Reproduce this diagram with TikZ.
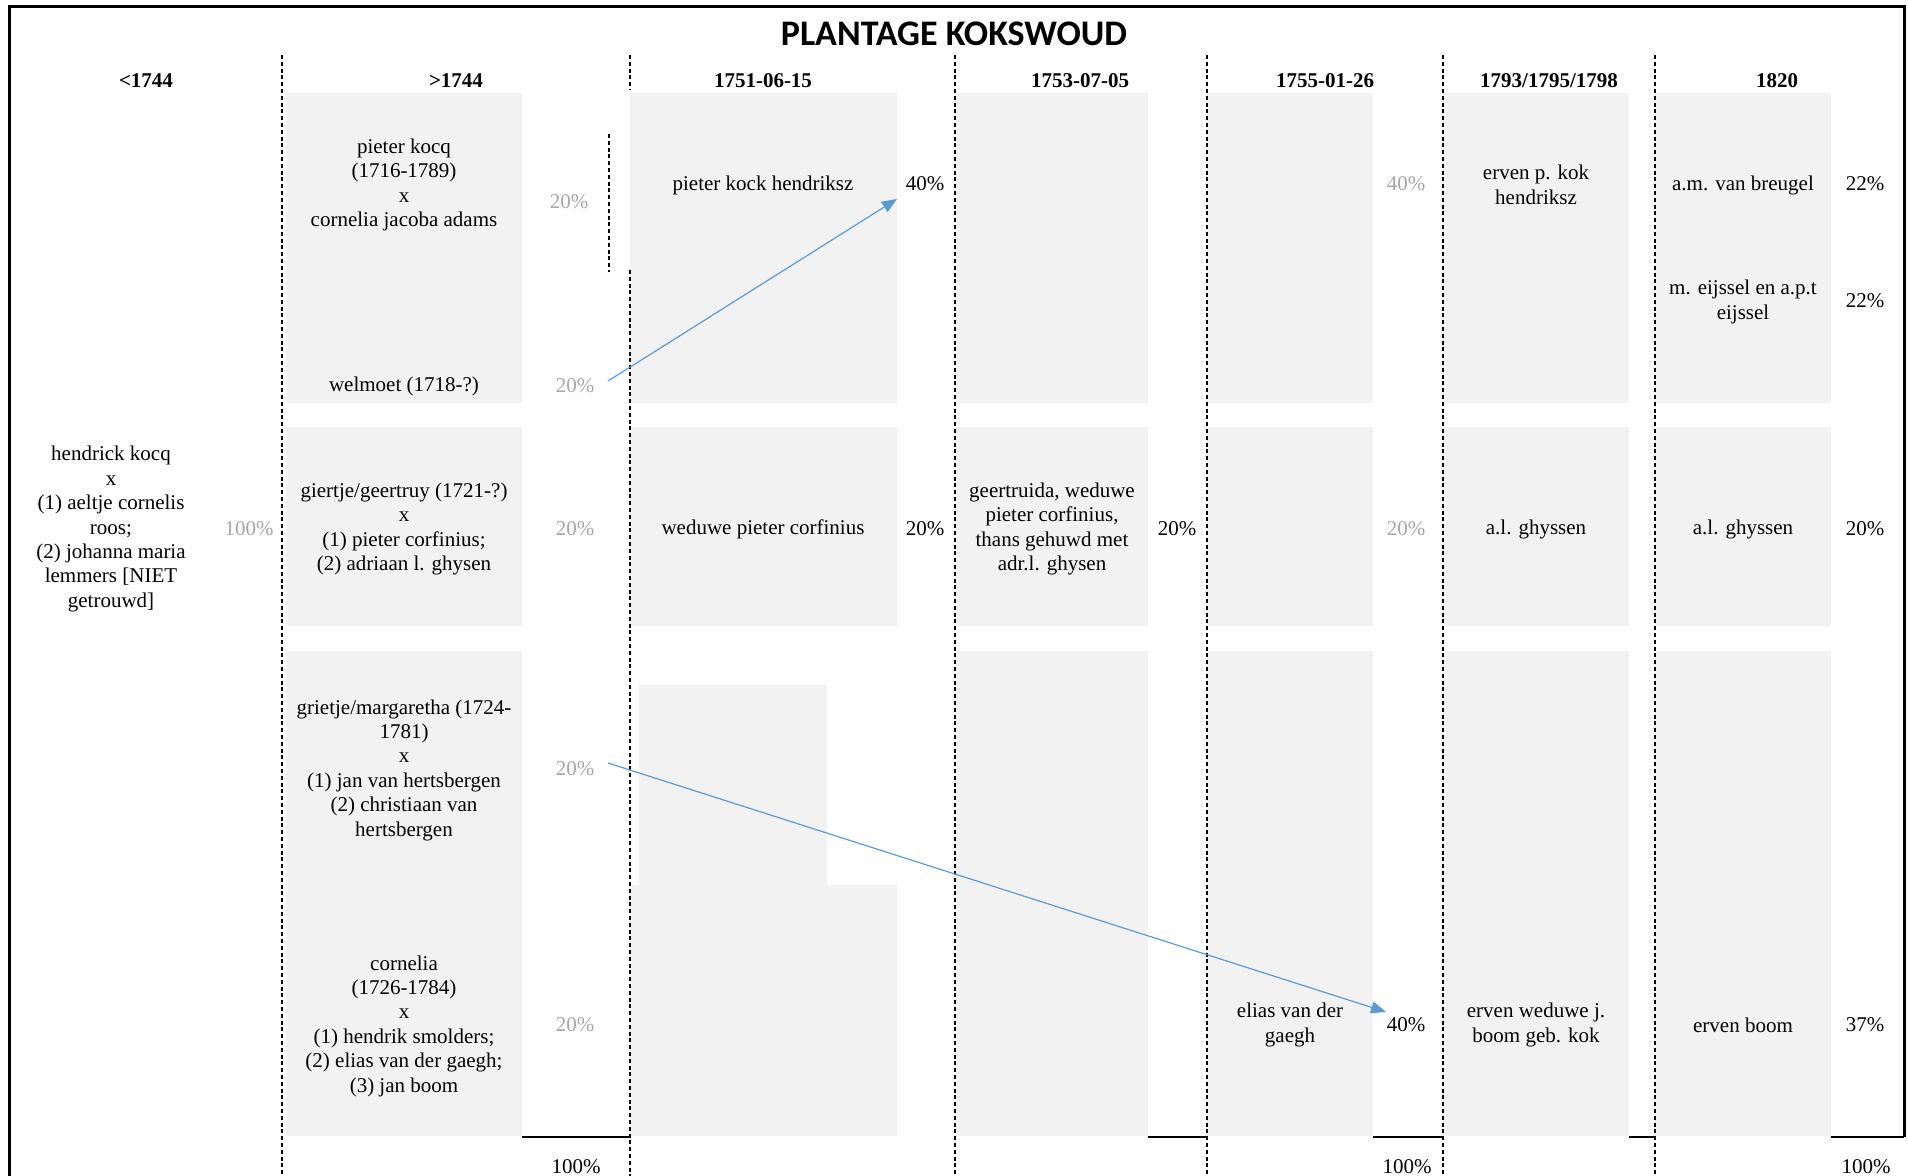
\documentclass[tikz,border=0pt]{standalone}
\usepackage{fontspec}
\setmainfont{Liberation Serif}
\newfontfamily\titelfont{Carlito}
\usetikzlibrary{arrows.meta}

\definecolor{vakgrijs}{HTML}{F2F2F2}
\definecolor{pctgrijs}{HTML}{A6A6A6}
\definecolor{pijlblauw}{HTML}{5B9BD5}

\tikzset{
	vak/.style={fill=vakgrijs},
	grens/.style={dash pattern=on 2pt off 1.4pt, line width=0.9pt},
	tekst/.style={align=center, inner sep=0pt, yshift=-1.5pt, font=\fontsize{10.5}{12.2}\selectfont},
	kop/.style={inner sep=0pt, font=\fontsize{10.5}{12.2}\selectfont\bfseries},
	pct/.style={inner sep=0pt, yshift=-1pt, font=\fontsize{10.5}{12.2}\selectfont},
	pctg/.style={pct, text=pctgrijs},
	pijl/.style={draw=pijlblauw, line width=0.6pt, -{Triangle[length=7.5pt,width=6pt]}}
}

\begin{document}
\begin{tikzpicture}[x=0.5pt,y=-0.5pt]
		\useasboundingbox (0,0) rectangle (1908,1176);
		% \fill[white] (0,0) rectangle (1908,1176);
		\fill[vak] (286,93) rectangle (522,403);
		\fill[vak] (286,427) rectangle (522,626);
		\fill[vak] (286,651) rectangle (522,1136);
		\fill[vak] (630,93) rectangle (897,403);
		\fill[vak] (630,427) rectangle (897,626);
		\fill[vak] (639,685) rectangle (827,886);
		\fill[vak] (630,885) rectangle (897,1136);
		\fill[vak] (956,93) rectangle (1148,403);
		\fill[vak] (956,427) rectangle (1148,626);
		\fill[vak] (956,651) rectangle (1148,1136);
		\fill[vak] (1207,93) rectangle (1373,403);
		\fill[vak] (1207,427) rectangle (1373,626);
		\fill[vak] (1207,651) rectangle (1373,1136);
		\fill[vak] (1443,93) rectangle (1629,403);
		\fill[vak] (1443,427) rectangle (1629,626);
		\fill[vak] (1443,651) rectangle (1629,1136);
		\fill[vak] (1655,93) rectangle (1831,403);
		\fill[vak] (1655,427) rectangle (1831,626);
		\fill[vak] (1655,651) rectangle (1831,1136);
		\draw[grens] (282,55)--(282,1176);
		\draw[grens] (630,55)--(630,90);
		\draw[grens] (630,270)--(630,1176);
		\draw[grens] (609,134)--(609,272);
		\draw[grens] (955,55)--(955,1176);
		\draw[grens] (1207,55)--(1207,1176);
		\draw[grens] (1443,55)--(1443,1176);
		\draw[grens] (1655,55)--(1655,1176);
		\draw[line width=1pt] (522,1137)--(630,1137);
		\draw[line width=1pt] (1148,1137)--(1207,1137);
		\draw[line width=1pt] (1373,1137)--(1443,1137);
		\draw[line width=1pt] (1629,1137)--(1655,1137);
		\draw[line width=1pt] (1831,1137)--(1904,1137);
		\draw[line width=1.5pt] (9,1176)--(9,7)--(1904,7)--(1904,1137);
		\node (titel) at (954,34) {\titelfont\fontsize{18}{20}\selectfont\bfseries PLANTAGE KOKSWOUD};
		\node[kop] (k0) at (146,81) {<1744};
		\node[kop] (k1) at (456,81) {>1744};
		\node[kop] (k2) at (763,81) {1751-06-15};
		\node[kop] (k3) at (1080,81) {1753-07-05};
		\node[kop] (k4) at (1325,81) {1755-01-26};
		\node[kop] (k5) at (1549,81) {1793/1795/1798};
		\node[kop] (k6) at (1777,81) {1820};
		\node[tekst] (hk) at (111,526) {hendrick kocq\\x\\(1) aeltje cornelis\\roos;\\(2) johanna maria\\lemmers [NIET\\getrouwd]};
		\node[tekst] (pk) at (404,182) {pieter kocq\\(1716-1789)\\x\\cornelia jacoba adams};
		\node[tekst] (wm) at (404,383) {welmoet (1718-?)};
		\node[tekst] (gg) at (404,526) {giertje/geertruy (1721-?)\\x\\(1) pieter corfinius;\\(2) adriaan l. ghysen};
		\node[tekst] (gm) at (404,767) {grietje/margaretha (1724-\\1781)\\x\\(1) jan van hertsbergen\\(2) christiaan van\\hertsbergen};
		\node[tekst] (co) at (404,1023) {cornelia\\(1726-1784)\\x\\(1) hendrik smolders;\\(2) elias van der gaegh;\\(3) jan boom};
		\node[tekst] (pkh) at (763,182) {pieter kock hendriksz};
		\node[tekst] (wpc) at (763,526) {weduwe pieter corfinius};
		\node[tekst] (gw) at (1052,526) {geertruida, weduwe\\pieter corfinius,\\thans gehuwd met\\adr.l. ghysen};
		\node[tekst] (evg) at (1290,1022) {elias van der\\gaegh};
		\node[tekst] (epk) at (1536,182) {erven p. kok\\hendriksz};
		\node[tekst] (alg1) at (1536,526) {a.l. ghyssen};
		\node[tekst] (ewb) at (1536,1022) {erven weduwe j.\\boom geb. kok};
		\node[tekst] (amb) at (1743,182) {a.m. van breugel};
		\node[tekst] (mee) at (1743,299) {m. eijssel en a.p.t\\eijssel};
		\node[tekst] (alg2) at (1743,526) {a.l. ghyssen};
		\node[tekst] (eb) at (1743,1022) {erven boom};
		\node[pctg] (p0) at (249,527) {100\%};
		\node[pctg] (p1a) at (569,200) {20\%};
		\node[pctg] (p1b) at (575,384) {20\%};
		\node[pctg] (p1c) at (575,527) {20\%};
		\node[pctg] (p1d) at (575,767) {20\%};
		\node[pctg] (p1e) at (575,1023) {20\%};
		\node[pct] (p2a) at (925,182) {40\%};
		\node[pct] (p2b) at (925,527) {20\%};
		\node[pct] (p3b) at (1177,527) {20\%};
		\node[pctg] (p4a) at (1406,182) {40\%};
		\node[pctg] (p4b) at (1406,527) {20\%};
		\node[pct] (p4e) at (1406,1023) {40\%};
		\node[pct] (p6a) at (1865,182) {22\%};
		\node[pct] (p6b) at (1865,299) {22\%};
		\node[pct] (p6c) at (1865,527) {20\%};
		\node[pct] (p6e) at (1865,1023) {37\%};
		\node[pct] (t1) at (576,1165) {100\%};
		\node[pct] (t2) at (1407,1165) {100\%};
		\node[pct] (t3) at (1866,1165) {100\%};
		\coordinate (a1) at (608,381);
		\coordinate (b1) at (897,199);
		\coordinate (a2) at (608,763);
		\coordinate (b2) at (1386,1012);
		\draw[pijl] (a1)--(b1);
		\draw[pijl] (a2)--(b2);
\end{tikzpicture}
\end{document}
